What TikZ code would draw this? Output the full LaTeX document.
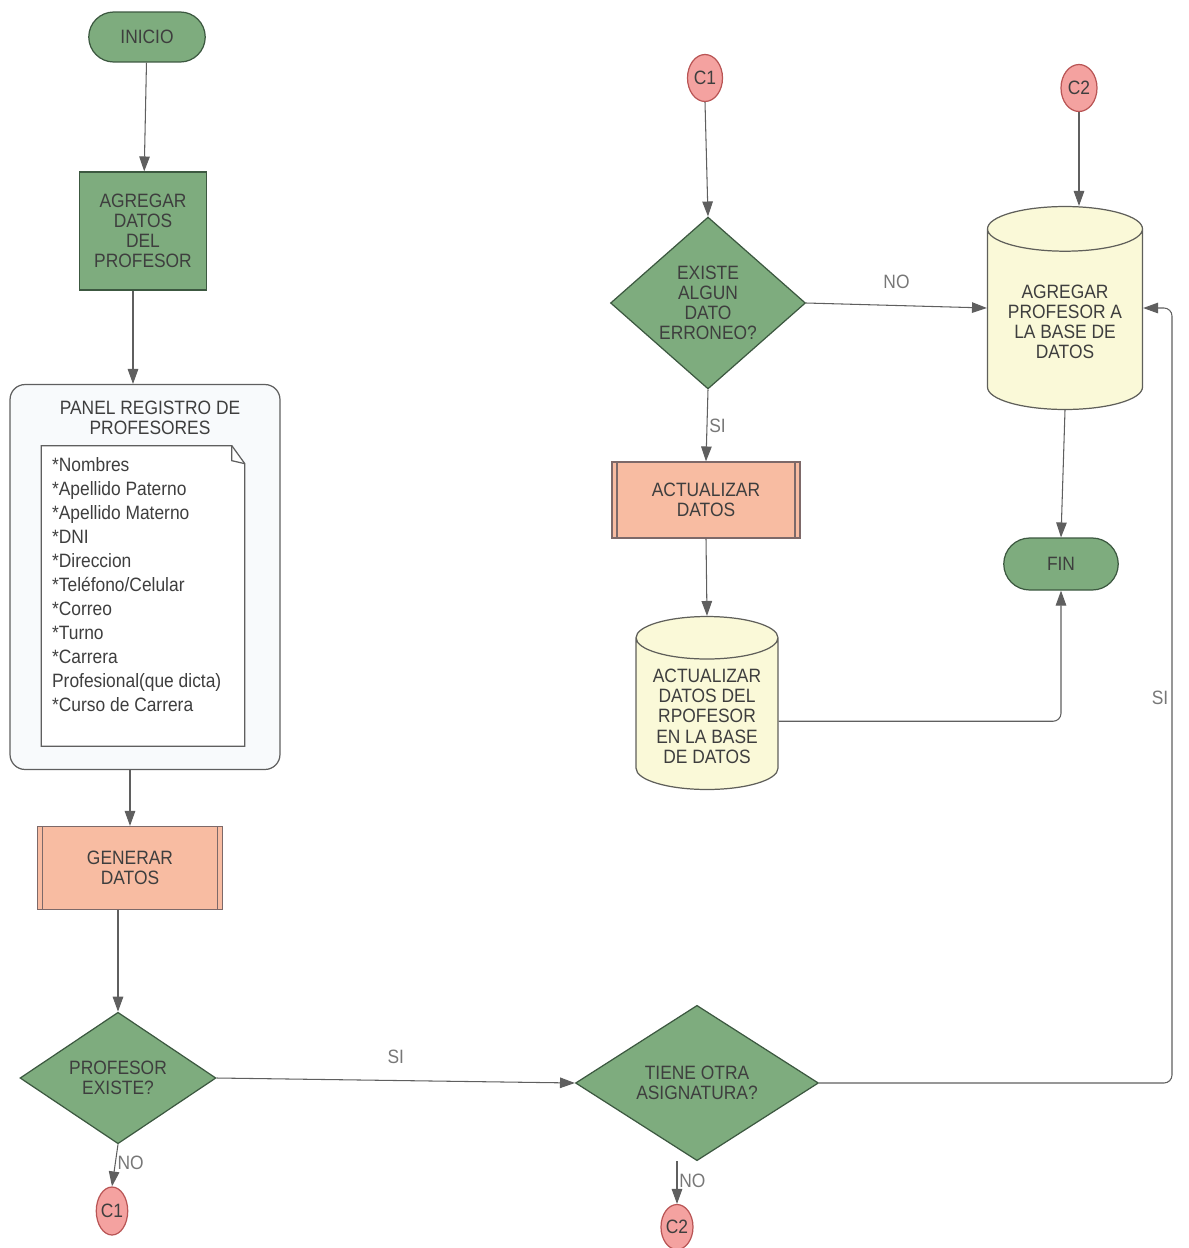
\documentclass[tikz,border=0pt]{standalone}
\usepackage{fontspec}
\setmainfont{Liberation Sans}[FakeStretch=0.9]
\usetikzlibrary{shapes.geometric,shapes.misc,arrows.meta}
\definecolor{grn}{RGB}{126,172,126}
\definecolor{grnd}{RGB}{60,88,64}
\definecolor{salm}{RGB}{248,188,162}
\definecolor{salmd}{RGB}{125,105,105}
\definecolor{crem}{RGB}{250,249,216}
\definecolor{cremd}{RGB}{95,95,90}
\definecolor{pnk}{RGB}{244,162,160}
\definecolor{pnkd}{RGB}{185,85,85}
\definecolor{pnl}{RGB}{248,250,252}
\definecolor{txt}{RGB}{62,62,62}
\definecolor{lin}{RGB}{95,95,95}

\begin{document}
\begin{tikzpicture}[x=0.02cm,y=-0.02cm,every node/.style={text=txt, align=center, font=\fontsize{11}{11.5}\selectfont, inner sep=1pt},
term/.style={rounded rectangle, draw=grnd, fill=grn, line width=0.7pt},
proc/.style={rectangle, draw=grnd, fill=grn, line width=0.7pt},
subproc/.style={rectangle, draw=salmd, fill=salm, line width=0.7pt, path picture={\draw[salmd, line width=0.7pt] ([xshift=0.1cm]path picture bounding box.north west) -- ([xshift=0.1cm]path picture bounding box.south west) ([xshift=-0.1cm]path picture bounding box.north east) -- ([xshift=-0.1cm]path picture bounding box.south east);}},
decision/.style={diamond, draw=grnd, fill=grn, line width=0.7pt, inner sep=0pt},
db/.style={cylinder, shape border rotate=90, aspect=0.38, anchor=shape center, draw=cremd, fill=crem, line width=0.7pt},
conn/.style={ellipse, draw=pnkd, fill=pnk, line width=0.7pt, inner sep=0pt},
lbl/.style={text=lin!85},
line/.style={draw=lin, line width=0.6pt, -{Triangle[length=8.5pt,width=6pt]}}]
\useasboundingbox (0,0) rectangle (1188,1248);

% columna izquierda
\node[term, minimum width=2.4cm, minimum height=1cm] (inicio) at (147,37) {INICIO};
\node[proc, minimum width=2.54cm, minimum height=2.36cm] (agregar) at (143,231) {AGREGAR\\DATOS\\DEL\\PROFESOR};
\node[draw=lin, fill=pnl, rounded corners=0.3cm, line width=0.7pt, minimum width=5.4cm, minimum height=7.7cm] (panel) at (145,577) {};
\node (ptitulo) at (150,418) {PANEL REGISTRO DE\\PROFESORES};
\node[minimum width=4.06cm, minimum height=6cm] (doc) at (143,596) {};
\draw[draw=lin, fill=white, line width=0.7pt] (doc.north west) -- ([xshift=-0.26cm]doc.north east) -- ([yshift=-0.36cm]doc.north east) -- (doc.south east) -- (doc.south west) -- cycle;
\draw[draw=lin, line width=0.7pt] ([xshift=-0.26cm]doc.north east) -- ([xshift=-0.26cm,yshift=-0.3cm]doc.north east) -- ([yshift=-0.36cm]doc.north east);
\node[anchor=north west, align=left, font=\fontsize{11}{13.7}\selectfont] (campos) at (50,455) {*Nombres\\*Apellido Paterno\\*Apellido Materno\\*DNI\\*Direccion\\*Teléfono/Celular\\*Correo\\*Turno\\*Carrera\\Profesional(que dicta)\\*Curso de Carrera};
\node[subproc, minimum width=3.7cm, minimum height=1.66cm] (generar) at (130,868) {GENERAR\\DATOS};
\node[decision, minimum width=3.92cm, minimum height=2.3cm] (existe) at (118,1078) {PROFESOR\\EXISTE?};
\node[conn, minimum width=0.6cm, minimum height=0.96cm] (c1b) at (112,1211) {C1};

% centro
\node[decision, minimum width=4.86cm, minimum height=2.74cm] (otra) at (697,1083) {TIENE OTRA\\ASIGNATURA?};
\node[conn, minimum width=0.64cm, minimum height=0.9cm] (c2b) at (677,1227) {C2};
\node[conn, minimum width=0.7cm, minimum height=0.94cm] (c1t) at (705,78) {C1};
\node[decision, minimum width=3.9cm, minimum height=3.26cm] (erroneo) at (708,303) {EXISTE\\ALGUN\\DATO\\ERRONEO?};
\node[subproc, minimum width=3.76cm, minimum height=1.52cm] (actualizar) at (706,500) {ACTUALIZAR\\DATOS};
\node[db, minimum width=2.84cm, minimum height=3.46cm] (dbact) at (707,703) {ACTUALIZAR\\DATOS DEL\\RPOFESOR\\EN LA BASE\\DE DATOS};

% derecha
\node[conn, minimum width=0.72cm, minimum height=0.94cm] (c2t) at (1079,88) {C2};
\node[db, minimum width=3.1cm, minimum height=4.06cm] (dbagr) at (1065,308) {AGREGAR\\PROFESOR A\\LA BASE DE\\DATOS};
\node[term, minimum width=2.36cm, minimum height=1.04cm] (fin) at (1061,564) {FIN};
\coordinate (giro) at (1172,1083);

% conectores
\draw[line] (inicio) -- (agregar);
\draw[line] ([xshift=-0.2cm]agregar.south) -- ([xshift=-0.2cm]agregar.south |- panel.north);
\draw[line] (generar.north |- panel.south) -- (generar.north);
\draw[line] (existe.north |- generar.south) -- (existe.north);
\draw[line] (existe.south) -- (c1b.north) node[lbl, pos=0.45, right] (no1) {NO};
\draw[line] (existe.east) -- (otra.west) node[lbl, midway, above=0.3cm] (si1) {SI};
\draw[line] (c2b.north |- otra.south) -- (c2b.north) node[lbl, pos=0.45, right] (no2) {NO};
\draw[line, rounded corners=0.16cm] (otra.east) -- (giro) |- (dbagr.east |- dbagr.shape center);
\node[lbl] (si2) at (1160,698) {SI};
\draw[line] (c1t.south) -- (erroneo.north);
\draw[line] (erroneo.east) -- (dbagr.west |- dbagr.shape center) node[lbl, midway, above=0.3cm] (no3) {NO};
\draw[line] (erroneo.south) -- (actualizar.north) node[lbl, midway, right] (si3) {SI};
\draw[line] (actualizar.south) -- (dbact.north);
\draw[line, rounded corners=0.16cm] ([yshift=-0.1cm]dbact.east) -| (fin.south);
\draw[line] (c2t.south) -- (c2t.south |- dbagr.north);
\draw[line] (dbagr.south) -- (fin.north);
\end{tikzpicture}
\end{document}
